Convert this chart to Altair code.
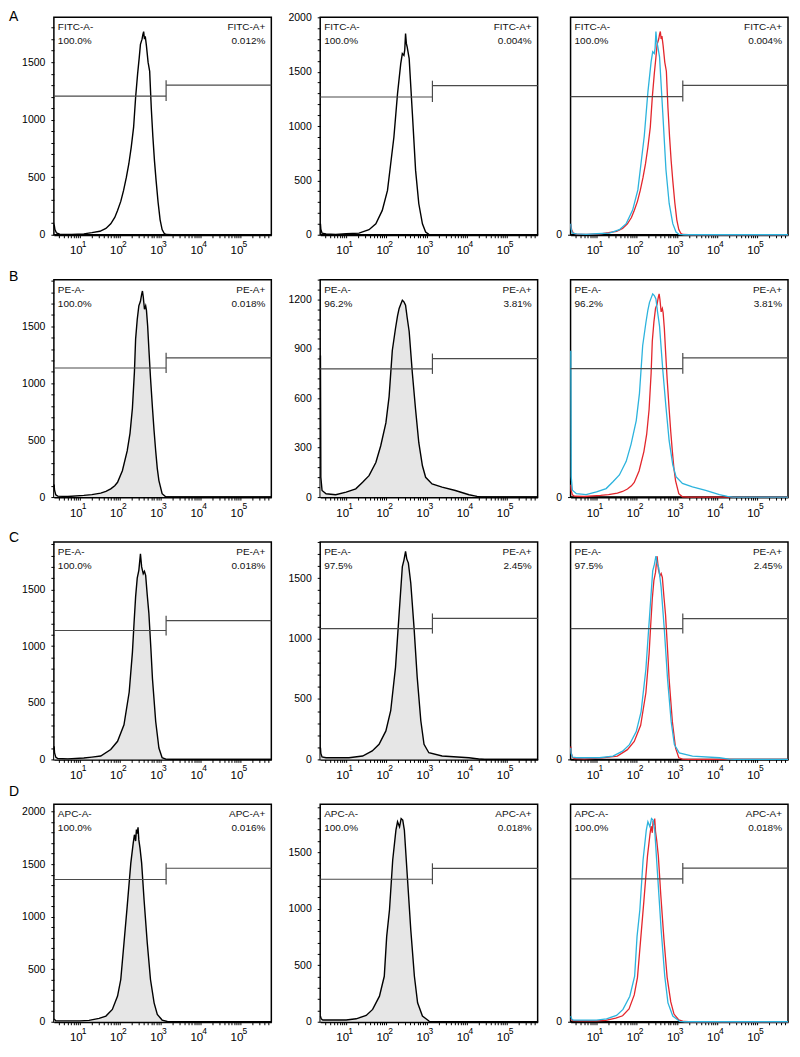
import altair as alt
import pandas as pd

# ---------------- layout constants ----------------
W, H = 218, 218
LOG_LO, LOG_HI = 0.354, 5.77
X_LO, X_HI = 10 ** LOG_LO, 10 ** LOG_HI
FONT = "Liberation Sans"
FILL = "#e6e6e6"
RED = "#e3262c"
CYAN = "#2cb3dd"
GATE = "#4a4a4a"

# ---------------- tick labels ----------------
decades = [10, 100, 1000, 10000, 100000]
decade_exps = ["1", "2", "3", "4", "5"]
x_ticks = [m * 10 ** k for k in range(0, 6) for m in range(1, 10)
           if X_LO <= m * 10 ** k <= X_HI]

# ---------------- histogram data (log10 intensity, events) ----------------
a1_e = [0.36, 0.38, 0.42, 0.5, 0.8, 1.1, 1.3, 1.5, 1.65, 1.77, 1.87, 1.94, 2.02, 2.09, 2.16,
        2.22, 2.28, 2.34, 2.39, 2.44, 2.48, 2.51, 2.55, 2.57, 2.59, 2.61, 2.63, 2.66, 2.70, 2.74,
        2.78, 2.82, 2.86, 2.90, 2.95, 2.98, 3.00, 3.05, 3.10, 3.15, 3.3, 5.77]
a1_c = [90, 45, 15, 5, 3, 8, 18, 30, 55, 95, 150, 210, 290, 385, 500,
        615, 760, 935, 1195, 1400, 1540, 1655, 1700, 1740, 1765, 1700, 1725, 1640, 1500, 1420,
        1100, 850, 640, 470, 280, 190, 130, 45, 12, 2, 0, 0]

a2_e = [0.36, 0.37, 0.40, 0.5, 0.74, 1.0, 1.32, 1.57, 1.74, 1.90, 2.03, 2.11, 2.19, 2.28, 2.36,
        2.40, 2.44, 2.46, 2.48, 2.50, 2.52, 2.57, 2.65, 2.73, 2.81, 2.90, 2.98, 3.06, 3.2, 5.77]
a2_c = [100, 50, 15, 8, 3, 9, 15, 46, 101, 224, 408, 653, 899, 1298, 1574,
        1666, 1650, 1700, 1850, 1760, 1727, 1620, 1113, 592, 285, 101, 25, 3, 0, 0]

b1_e = [0.36, 0.37, 0.40, 0.45, 0.7, 1.1, 1.3, 1.52, 1.65, 1.77, 1.87, 1.94, 2.06, 2.18, 2.25,
        2.31, 2.36, 2.39, 2.43, 2.47, 2.51, 2.54, 2.56, 2.58, 2.61, 2.64, 2.66, 2.69, 2.72, 2.76,
        2.81, 2.85, 2.89, 2.93, 2.97, 3.05, 3.14, 3.3, 5.77]
b1_c = [110, 60, 20, 8, 5, 15, 22, 35, 50, 72, 100, 130, 232, 405, 560,
        780, 1100, 1390, 1560, 1680, 1720, 1780, 1810, 1760, 1650, 1680, 1640, 1500, 1300, 1050,
        780, 580, 405, 250, 145, 30, 3, 0, 0]

b2_e = [0.36, 0.37, 0.40, 0.5, 0.74, 1.0, 1.24, 1.41, 1.57, 1.74, 1.86, 1.99, 2.07, 2.15, 2.23,
        2.28, 2.32, 2.36, 2.40, 2.44, 2.48, 2.52, 2.57, 2.65, 2.73, 2.81, 2.90, 2.98, 3.14, 3.39,
        3.72, 4.06, 4.26, 4.4, 5.77]
b2_c = [860, 120, 40, 20, 14, 30, 50, 90, 130, 210, 310, 450, 610, 890, 1025,
        1100, 1145, 1170, 1195, 1185, 1165, 1090, 1005, 750, 530, 330, 190, 120, 80, 60,
        40, 14, 4, 0, 0]

c1_e = [0.36, 0.37, 0.40, 0.45, 0.7, 1.1, 1.3, 1.52, 1.77, 1.94, 2.10, 2.23, 2.31, 2.35, 2.39,
        2.43, 2.47, 2.51, 2.54, 2.58, 2.61, 2.64, 2.68, 2.72, 2.77, 2.81, 2.89, 2.97, 3.05, 3.14,
        3.3, 5.77]
c1_c = [115, 60, 20, 8, 5, 12, 20, 30, 87, 160, 305, 595, 945, 1200, 1437,
        1600, 1670, 1815, 1700, 1640, 1660, 1625, 1450, 1290, 980, 710, 335, 100, 15, 2,
        0, 0]

c2_e = [0.36, 0.37, 0.40, 0.5, 1.07, 1.41, 1.65, 1.82, 1.99, 2.11, 2.23, 2.32, 2.40, 2.44, 2.48,
        2.51, 2.55, 2.61, 2.69, 2.77, 2.86, 2.94, 3.06, 3.39, 4.06, 4.30, 4.45, 5.77]
c2_c = [97, 50, 20, 14, 14, 28, 70, 125, 236, 403, 764, 1208, 1597, 1650, 1722,
        1660, 1625, 1458, 1097, 680, 320, 125, 55, 28, 14, 3, 0, 0]

d1_e = [0.36, 0.40, 0.6, 1.0, 1.23, 1.48, 1.65, 1.81, 1.94, 2.02, 2.10, 2.18, 2.27, 2.33, 2.36,
        2.39, 2.41, 2.43, 2.45, 2.47, 2.50, 2.54, 2.60, 2.68, 2.76, 2.85, 2.93, 3.05, 3.18, 3.3,
        5.77]
d1_c = [25, 10, 8, 8, 13, 32, 54, 117, 244, 402, 750, 1098, 1510, 1700, 1780,
        1720, 1830, 1790, 1850, 1731, 1650, 1510, 1161, 750, 402, 180, 70, 16, 2, 0,
        0]

d2_e = [0.36, 0.38, 0.42, 0.6, 1.0, 1.25, 1.50, 1.66, 1.83, 1.95, 2.01, 2.08, 2.16, 2.24, 2.28,
        2.33, 2.37, 2.41, 2.45, 2.53, 2.61, 2.70, 2.78, 2.90, 3.03, 3.07, 3.2, 5.77]
d2_c = [50, 25, 15, 15, 15, 26, 56, 109, 226, 402, 755, 990, 1430, 1695, 1768,
        1724, 1797, 1783, 1695, 1254, 813, 402, 167, 50, 15, 3, 0, 0]

curves = [[(a1_e, a1_c), (a2_e, a2_c)],
          [(b1_e, b1_c), (b2_e, b2_c)],
          [(c1_e, c1_c), (c2_e, c2_c)],
          [(d1_e, d1_c), (d2_e, d2_c)]]

# ---------------- panel annotations ----------------
row_letters = ["A", "B", "C", "D"]
row_markers = ["FITC", "PE", "PE", "APC"]
row_filled = [False, True, True, True]
neg_pct = [["100.0%", "100.0%", "100.0%"],
           ["100.0%", "96.2%", "96.2%"],
           ["100.0%", "97.5%", "97.5%"],
           ["100.0%", "100.0%", "100.0%"]]
pos_pct = [["0.012%", "0.004%", "0.004%"],
           ["0.018%", "3.81%", "3.81%"],
           ["0.018%", "2.45%", "2.45%"],
           ["0.016%", "0.018%", "0.018%"]]
y_max = [[1890, 2000, 1.07], [1910, 1320, 1.07], [1920, 1800, 1.07], [2070, 1923, 1.07]]
y_major = [[500, 500, 1], [500, 300, 1], [500, 500, 1], [500, 500, 1]]
gate_lo = [[1205, 1267, 0.68], [1134, 778, 0.632], [1138, 1083, 0.644], [1354, 1260, 0.703]]
gate_hi = [[1300, 1371, 0.735], [1223, 841, 0.685], [1225, 1167, 0.693], [1461, 1357, 0.756]]
GATE_X = 1410
letter_y = [-7, -10, -11, -19]

one_row = pd.DataFrame({"k": [0]})

x_label_expr = ("indexof([" + ",".join(str(d) for d in decades) + "], datum.value) >= 0 ? '10' : ''")
XSCALE = alt.Scale(type="log", domain=[X_LO, X_HI], nice=False, zero=False)
XAXIS = alt.Axis(values=x_ticks, labelExpr=x_label_expr, title=None, grid=False,
                 domain=True, domainColor="black", domainWidth=1.8,
                 ticks=True, tickColor="black", tickSize=3, tickWidth=1,
                 labelFontSize=11.5, labelFont=FONT, labelColor="black", labelPadding=7,
                 labelOffset=-4, labelOverlap=False, labelFlush=False, labelBaseline="top")


def xenc(field):
    return alt.X(field, type="quantitative", scale=XSCALE, axis=XAXIS)


def panel(r, c):
    ymax = y_max[r][c]
    if c < 2:
        minor = y_major[r][c] / 5
        vals = [int(i * minor) for i in range(0, int(ymax / minor) + 1)]
        yexpr = "datum.value %% %d === 0 ? format(datum.value, 'd') : ''" % y_major[r][c]
    else:
        vals = [0]
        yexpr = "'0'"
    yscale = alt.Scale(domain=[0, ymax], nice=False, zero=True)
    yaxis = alt.Axis(values=vals, labelExpr=yexpr, title=None, grid=False, domain=False,
                     ticks=True, tickColor="black", tickSize=3, tickWidth=1,
                     labelFontSize=10.5, labelFont=FONT, labelColor="black", labelPadding=6,
                     labelOverlap=False, labelFlush=False)

    def yenc(field):
        return alt.Y(field, type="quantitative", scale=yscale, axis=yaxis)

    layers = []
    if c < 2:
        e, n = curves[r][c]
        df = pd.DataFrame({"e": e, "c": n})
        base = alt.Chart(df).transform_calculate(xv="pow(10, datum.e)")
        if row_filled[r]:
            layers.append(base.mark_area(color=FILL).encode(x=xenc("xv"), y=yenc("c")))
        layers.append(base.mark_line(color="black", strokeWidth=1.4).encode(x=xenc("xv"), y=yenc("c")))
    else:
        for (e, n), col in zip(curves[r], [RED, CYAN]):
            df = pd.DataFrame({"e": e, "c": n})
            layers.append(
                alt.Chart(df)
                .transform_joinaggregate(mx="max(c)")
                .transform_calculate(xv="pow(10, datum.e)", nv="datum.c / datum.mx")
                .mark_line(color=col, strokeWidth=1.3)
                .encode(x=xenc("xv"), y=yenc("nv"))
            )
    # gate
    lo, hi = gate_lo[r][c], gate_hi[r][c]
    d = ymax * 5.0 / H
    gdf = pd.DataFrame({
        "x1": [X_LO, GATE_X, GATE_X],
        "x2": [GATE_X, GATE_X, X_HI],
        "y1": [lo, lo - d, hi],
        "y2": [lo, hi + d, hi],
    })
    layers.append(alt.Chart(gdf).mark_rule(color=GATE, strokeWidth=1.2).encode(
        x=xenc("x1"), x2="x2", y=yenc("y1"), y2="y2"))
    # exponent labels of the x axis
    edf = pd.DataFrame({"v": decades, "t": decade_exps})
    layers.append(alt.Chart(edf).mark_text(align="left", baseline="top", dx=2, fontSize=8.5,
                                           font=FONT, color="black").encode(
        x=xenc("v"), y=alt.value(H + 5), text="t:N"))
    # gate annotations
    m = row_markers[r]
    for txt, xx, yy, al in [(m + "-A-", 4, 10, "left"), (neg_pct[r][c], 4, 24, "left"),
                            (m + "-A+", W - 6, 10, "right"), (pos_pct[r][c], W - 6, 24, "right")]:
        layers.append(alt.Chart(one_row).mark_text(text=txt, align=al, baseline="middle",
                                                   fontSize=10, font=FONT, color="#111111").encode(
            x=alt.value(xx), y=alt.value(yy)))
    if c == 0:
        layers.append(alt.Chart(one_row).mark_text(text=row_letters[r], align="left", baseline="top",
                                                   fontSize=14, font=FONT, color="black").encode(
            x=alt.value(-45), y=alt.value(letter_y[r])))
    return alt.layer(*layers).properties(width=W, height=H)


def spacer(w):
    return alt.Chart(one_row).mark_point(opacity=0).encode(
        x=alt.X("k:Q", axis=None), y=alt.Y("k:Q", axis=None)
    ).properties(width=w, height=H, view=alt.ViewBackground(stroke=None))


cells = []
for r in range(4):
    cells += [panel(r, 0), spacer(49), panel(r, 1), spacer(33), panel(r, 2)]

chart = alt.concat(*cells, columns=5, spacing={"row": 45, "column": 0}, bounds="flush").properties(
    padding={"left": 0, "top": 0, "right": 0, "bottom": 0}, background="white"
).configure_view(stroke="black", strokeWidth=1.5)

chart.save("out.html", embed_options={"renderer": "svg", "actions": False})
